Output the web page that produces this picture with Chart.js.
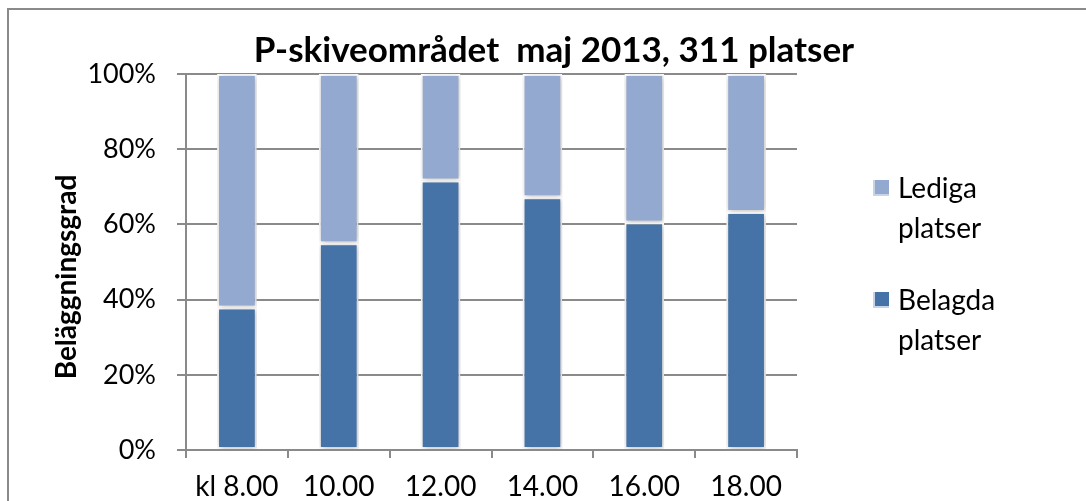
<!DOCTYPE html>
<html>
<head>
<meta charset="utf-8">
<script src="https://cdn.jsdelivr.net/npm/chart.js@4"></script>
<style>
  html, body { margin: 0; padding: 0; background: #fff; overflow: hidden; }
  #wrap { position: relative; width: 1086px; height: 501px; }
  #frame { position: absolute; left: 7px; top: 8px; width: 1200px; height: 700px; border: 2px solid #8a8a8a; box-sizing: border-box; pointer-events: none; }
  canvas { position: absolute; left: 0; top: 0; }
</style>
</head>
<body>
<div id="wrap">
  <div id="frame"></div>
  <canvas id="c" width="1086" height="501"></canvas>
</div>
<script>
const categories = ["kl 8.00", "10.00", "12.00", "14.00", "16.00", "18.00"];
const belagda = [37.9, 55.0, 71.7, 67.2, 60.5, 63.3];
const lediga = [62.1, 45.0, 28.3, 32.8, 39.5, 36.7];
const yTicks = ["0%", "20%", "40%", "60%", "80%", "100%"];
const titleText = "P-skiveområdet  maj 2013, 311 platser";
const yTitle = "Beläggningsgrad";
const legendLabels = [["Lediga", "platser"], ["Belagda", "platser"]];

const FONT = "Lato, 'Open Sans', sans-serif";
const colBel = "#4572A7";
const colLed = "#94A9D0";

const shadowPlugin = {
  id: "shadow",
  beforeDatasetsDraw(chart) {
    const ctx = chart.ctx;
    ctx.save();
    ctx.shadowColor = "rgba(0,0,0,0.28)";
    ctx.shadowBlur = 6;
    ctx.shadowOffsetX = 1;
    ctx.shadowOffsetY = 1;
  },
  afterDatasetsDraw(chart) {
    chart.ctx.restore();
  }
};

const textPlugin = {
  id: "texts",
  afterDraw(chart) {
    const ctx = chart.ctx;
    ctx.save();
    // title
    ctx.fillStyle = "#000";
    ctx.font = "bold 35px " + FONT;
    ctx.textAlign = "center";
    ctx.textBaseline = "alphabetic";
    ctx.fillText(titleText, 554, 62);
    // y axis title
    ctx.save();
    ctx.translate(76, 277);
    ctx.rotate(-Math.PI / 2);
    ctx.font = "bold 28px " + FONT;
    ctx.textAlign = "center";
    ctx.textBaseline = "alphabetic";
    ctx.fillText(yTitle, 0, 0);
    ctx.restore();
    // legend
    const items = [
      { color: colLed, lines: legendLabels[0], y: 189 },
      { color: colBel, lines: legendLabels[1], y: 301 }
    ];
    ctx.font = "28px " + FONT;
    ctx.textAlign = "left";
    ctx.textBaseline = "middle";
    items.forEach(it => {
      ctx.fillStyle = "#c9d3e6";
      ctx.fillRect(873, it.y - 9, 16, 16);
      ctx.fillStyle = it.color;
      ctx.fillRect(875, it.y - 9, 14, 14);
      ctx.fillStyle = "#000";
      it.lines.forEach((ln, i) => ctx.fillText(ln, 898, it.y + i * 40));
    });
    ctx.restore();
  }
};

new Chart(document.getElementById("c"), {
  type: "bar",
  data: {
    labels: categories,
    datasets: [
      { label: "Belagda platser", data: belagda, backgroundColor: colBel, borderColor: "#ffffff", borderWidth: 2, borderSkipped: false, barPercentage: 0.39, categoryPercentage: 1.0 },
      { label: "Lediga platser", data: lediga, backgroundColor: colLed, borderColor: "#ffffff", borderWidth: 2, borderSkipped: false, barPercentage: 0.39, categoryPercentage: 1.0 }
    ]
  },
  options: {
    responsive: false,
    animation: false,
    devicePixelRatio: 1,
    layout: { padding: { left: 0, right: 289, top: 74, bottom: 0 } },
    plugins: {
      legend: { display: false },
      tooltip: { enabled: false },
      title: { display: false }
    },
    scales: {
      x: {
        stacked: true,
        offset: true,
        grid: { display: true, drawOnChartArea: false, drawTicks: true, tickLength: 8, color: "#8a8a8a", lineWidth: 2, offset: true },
        border: { display: true, color: "#8a8a8a", width: 2 },
        ticks: { color: "#000", font: { family: FONT, size: 28 }, padding: 12, maxRotation: 0 },
        afterFit(scale) { scale.height = 51; }
      },
      y: {
        stacked: true,
        min: 0,
        max: 100,
        grid: { color: "#8a8a8a", lineWidth: 2, tickLength: 9, drawTicks: true },
        border: { display: true, color: "#8a8a8a", width: 2 },
        ticks: {
          stepSize: 20,
          color: "#000",
          font: { family: FONT, size: 27 },
          padding: 21,
          callback(v) { return yTicks[Math.round(v / 20)]; }
        },
        title: { display: false },
        afterFit(scale) { scale.width = 186; }
      }
    }
  },
  plugins: [shadowPlugin, textPlugin]
});
</script>
</body>
</html>
